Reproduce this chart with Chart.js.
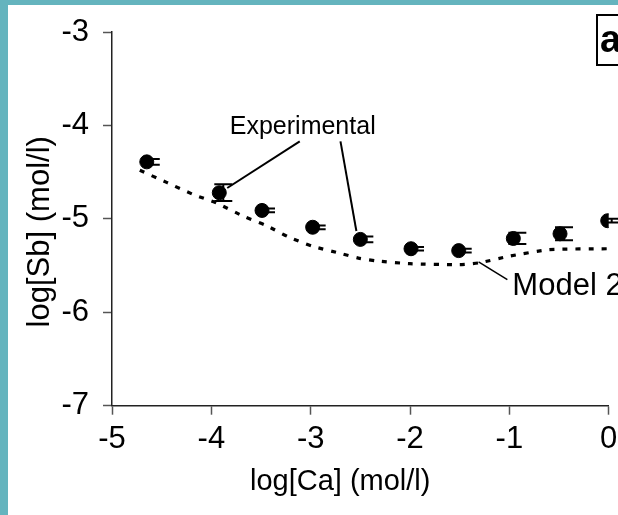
<!DOCTYPE html>
<html>
<head>
<meta charset="utf-8">
<script src="https://cdn.jsdelivr.net/npm/chart.js@4.4.1/dist/chart.umd.min.js"></script>
<style>
  html, body { margin: 0; padding: 0; background: #ffffff; }
  #wrap { position: relative; width: 618px; height: 515px; background: #64B4BE; overflow: hidden; }
  #c { position: absolute; left: 8px; top: 5px; background: #ffffff; }
</style>
</head>
<body>
<div id="wrap"><canvas id="c" width="640" height="510"></canvas></div>
<script>
// ---- data ----
const xTicks = [-5, -4, -3, -2, -1, 0];
const yTicks = [-7, -6, -5, -4, -3];
const expX   = [-4.65, -3.92, -3.49, -2.98, -2.50, -1.99, -1.51, -0.96, -0.49, -0.01];
const expY   = [-4.39, -4.72, -4.91, -5.09, -5.22, -5.32, -5.34, -5.21, -5.16, -5.02];
const expErr = [0.03, 0.09, 0.02, 0.02, 0.03, 0.02, 0.02, 0.06, 0.07, 0.02];
const modelX = [-4.72, -4.45, -4.18, -3.95, -3.68, -3.45, -3.23, -2.99, -2.70, -2.52, -2.34, -2.00, -1.50, -1.30, -1.00, -0.60, 0.00];
const modelY = [-4.48, -4.61, -4.74, -4.83, -4.97, -5.07, -5.19, -5.29, -5.37, -5.42, -5.45, -5.48, -5.49, -5.47, -5.40, -5.33, -5.32];

const FONT = "'Liberation Sans', Arial, sans-serif";
const NB = '\u00A0';

const errorBars = {
  id: 'errorBars',
  afterDatasetsDraw(chart) {
    const ctx = chart.ctx, xs = chart.scales.x, ys = chart.scales.y;
    ctx.save();
    ctx.strokeStyle = '#000';
    ctx.lineWidth = 2;
    for (let i = 0; i < expX.length; i++) {
      const px = xs.getPixelForValue(expX[i]) + 4;
      const y1 = ys.getPixelForValue(expY[i] + expErr[i]);
      const y2 = ys.getPixelForValue(expY[i] - expErr[i]);
      ctx.beginPath();
      ctx.moveTo(px, y1); ctx.lineTo(px, y2);
      ctx.moveTo(px - 9, y1); ctx.lineTo(px + 9, y1);
      ctx.moveTo(px - 9, y2); ctx.lineTo(px + 9, y2);
      ctx.stroke();
    }
    ctx.restore();
  }
};

const annotations = {
  id: 'annotations',
  afterDraw(chart) {
    const ctx = chart.ctx, xs = chart.scales.x, ys = chart.scales.y;
    const P = (x, y) => [xs.getPixelForValue(x), ys.getPixelForValue(y)];
    ctx.save();
    ctx.fillStyle = '#000';
    ctx.strokeStyle = '#000';
    ctx.lineWidth = 2;
    // Experimental
    ctx.font = "25px " + FONT;
    ctx.textAlign = 'center';
    ctx.textBaseline = 'middle';
    let t = P(-3.08, -4.02);
    ctx.fillText('Experimental', t[0], t[1]);
    let a = P(-3.11, -4.17), b = P(-3.84, -4.67);
    ctx.beginPath(); ctx.moveTo(a[0], a[1]); ctx.lineTo(b[0], b[1]); ctx.stroke();
    a = P(-2.70, -4.17); b = P(-2.54, -5.13);
    ctx.beginPath(); ctx.moveTo(a[0], a[1]); ctx.lineTo(b[0], b[1]); ctx.stroke();
    // Model 2
    ctx.font = "31px " + FONT;
    ctx.textAlign = 'left';
    t = P(-0.97, -5.72);
    ctx.fillText('Model 2', t[0], t[1]);
    a = P(-1.31, -5.46); b = P(-1.02, -5.65);
    ctx.lineWidth = 1.5;
    ctx.beginPath(); ctx.moveTo(a[0], a[1]); ctx.lineTo(b[0], b[1]); ctx.stroke();
    // panel label box
    ctx.lineWidth = 2;
    ctx.strokeRect(589, 10, 40, 50);
    ctx.font = "bold 38px " + FONT;
    ctx.textAlign = 'left';
    ctx.fillText('a', 592, 37);
    ctx.restore();
  }
};

new Chart(document.getElementById('c'), {
  data: {
    datasets: [
      {
        type: 'line',
        label: 'Model 2',
        data: modelX.map((x, i) => ({ x: x, y: modelY[i] })),
        borderColor: '#000',
        borderWidth: 3.2,
        borderDash: [5, 8],
        pointRadius: 0,
        fill: false,
        tension: 0.2
      },
      {
        type: 'scatter',
        label: 'Experimental',
        data: expX.map((x, i) => ({ x: x, y: expY[i] })),
        backgroundColor: '#000',
        borderColor: '#000',
        pointRadius: 7,
        pointHoverRadius: 7
      }
    ]
  },
  options: {
    responsive: false,
    animation: false,
    events: [],
    layout: { padding: { left: 0, right: 39.3, top: 27, bottom: 0 } },
    plugins: { legend: { display: false }, tooltip: { enabled: false } },
    scales: {
      x: {
        type: 'linear',
        min: -5, max: 0,
        afterBuildTicks: (s) => { s.ticks = xTicks.map(v => ({ value: v })); },
        afterFit: (s) => { s.height = 109.3; },
        grid: { drawOnChartArea: false, drawTicks: true, tickLength: 9, tickColor: '#555', tickWidth: 1.5 },
        border: { color: '#222', width: 1.5 },
        ticks: { color: '#000', font: { family: FONT, size: 31 }, padding: 6, maxRotation: 0 },
        title: { display: true, text: 'log[Ca] (mol/l)' + NB.repeat(5), color: '#000', font: { family: FONT, size: 29 }, padding: { top: 0, bottom: 16 } }
      },
      y: {
        type: 'linear',
        min: -7, max: -3,
        afterBuildTicks: (s) => { s.ticks = yTicks.map(v => ({ value: v })); },
        afterFit: (s) => { s.width = 104; },
        grid: { drawOnChartArea: false, drawTicks: true, tickLength: 9, tickColor: '#555', tickWidth: 1.5 },
        border: { color: '#222', width: 1.5 },
        ticks: { color: '#000', font: { family: FONT, size: 31, lineHeight: 0.8 }, padding: 14 },
        title: { display: true, text: 'log[Sb] (mol/l)' + NB.repeat(3), color: '#000', font: { family: FONT, size: 31 }, padding: { top: 14, bottom: 0 } }
      }
    }
  },
  plugins: [errorBars, annotations]
});
</script>
</body>
</html>
